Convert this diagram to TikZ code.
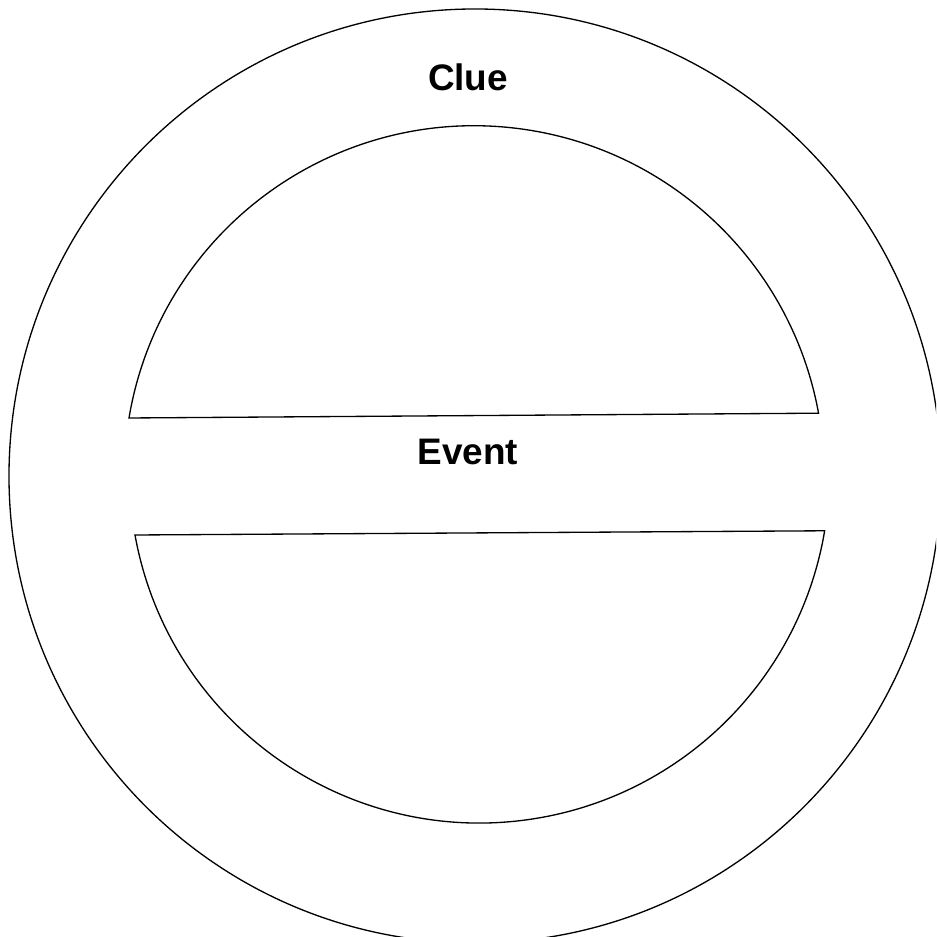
\documentclass[tikz,border=0pt]{standalone}
\usepackage{fontspec}
\setmainfont{Liberation Sans}
\usepackage{tikz}
\tikzset{
  ring/.style={draw=black,line width=.75pt},
  label/.style={font=\bfseries\fontsize{21}{25}\selectfont}
}

\begin{document}
\begin{tikzpicture}[x=1cm,y=1cm]
\path[use as bounding box] (0,0) rectangle (18.72,18.74);
\clip (0,0) rectangle (18.72,18.74);
\fill[white] (0,0) rectangle (18.72,18.74);
% outer ring
\draw[ring] (9.50,9.22) ellipse [x radius=9.32,y radius=9.34];
% upper and lower segments
\draw[ring] (2.58,10.38) arc[start angle=170.5,end angle=10.3,radius=7.00] -- cycle;
\draw[ring] (2.70,8.04) arc[start angle=190.2,end angle=350.5,radius=7.00] -- cycle;
\node[label] (clue) at (9.36,17.20) {Clue};
\node[label] (event) at (9.36,9.70) {Event};
\end{tikzpicture}
\end{document}
